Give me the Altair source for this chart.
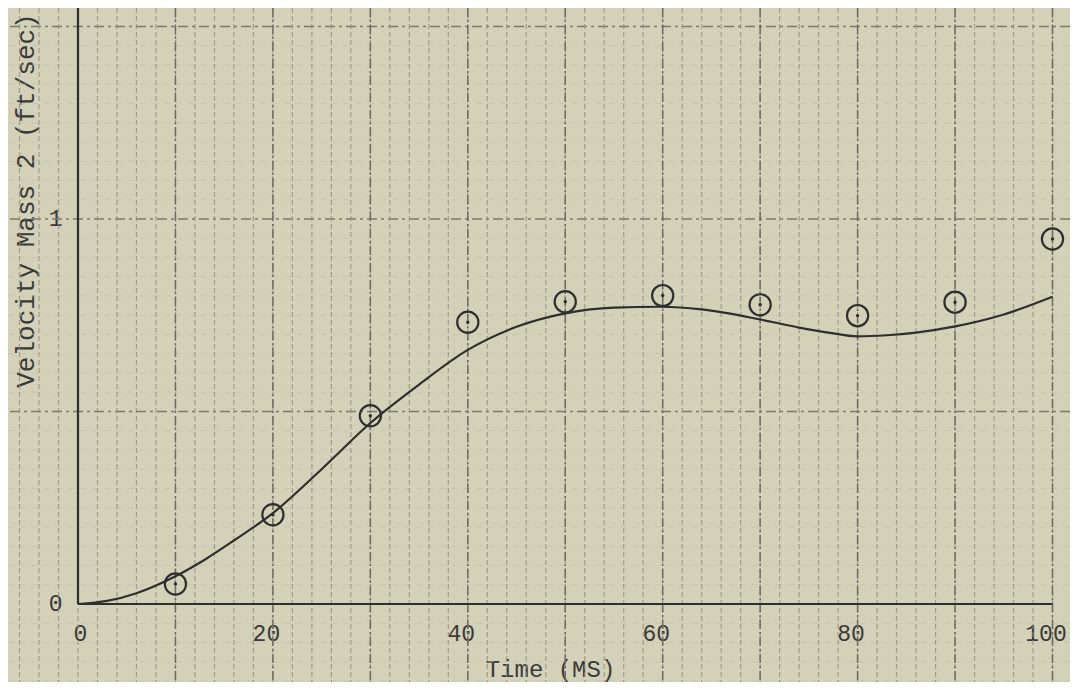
import altair as alt
import pandas as pd

# ---- data ----
time_pts = [10, 20, 30, 40, 50, 60, 70, 80, 90, 100]
vel_pts = [0.052, 0.232, 0.489, 0.732, 0.785, 0.801, 0.777, 0.749, 0.784, 0.948]

curve_t = [0, 3, 6, 10, 13, 16, 20, 25, 30, 35, 40, 45, 50, 55, 60, 64, 70, 74, 77, 80, 83, 86, 90, 95, 100]
curve_v = [0.0, 0.008, 0.028, 0.072, 0.115, 0.165, 0.236, 0.35, 0.47, 0.57, 0.66, 0.72, 0.755, 0.77, 0.772,
           0.765, 0.739, 0.718, 0.705, 0.695, 0.698, 0.705, 0.721, 0.752, 0.798]

x_ticks = [0, 20, 40, 60, 80, 100]
y_ticks = [0, 1]

# graph-paper rulings
minor_x = list(range(-6, 102, 2))
major_x = list(range(10, 101, 10))
major_y = [0.5, 1.0, 1.5]
minor_y = [round(i * 0.05, 2) for i in range(-4, 31) if round(i * 0.05, 2) not in (0.0, 0.5, 1.0, 1.5)]

W, H = 1062, 674
X_DOMAIN = [-7.183, 101.796]
Y_DOMAIN = [-0.2026, 1.548]

PAPER = "#d3d1b8"
INK = "#2f2f2f"
TEXT = "#3a3a3a"
FONT = "Liberation Mono"

xs = alt.Scale(domain=X_DOMAIN, nice=False, zero=False)
ys = alt.Scale(domain=Y_DOMAIN, nice=False, zero=False)

x_label_offset = {
    "condition": [
        {"test": "datum.value == 0", "value": 2},
        {"test": "datum.value == 100", "value": -7},
    ],
    "value": -7,
}

xaxis = alt.Axis(
    values=x_ticks, title="Time (MS)", grid=False, domain=False, ticks=False, tickSize=0,
    labelPadding=36, labelBaseline="alphabetic", labelFont=FONT, labelFontSize=23,
    labelColor=TEXT, labelOverlap=False, labelFlush=False, labelOffset=x_label_offset,
    offset=-78,
    titleFont=FONT, titleFontSize=24, titleFontWeight="normal", titleColor=TEXT,
    titleX=542, titleY=72, titleBaseline="alphabetic",
)
yaxis = alt.Axis(
    values=y_ticks, title="Velocity Mass 2 (ft/sec)", grid=False, domain=False, ticks=False, tickSize=0,
    labelPadding=16, labelAlign="right", labelBaseline="middle", labelFont=FONT, labelFontSize=23,
    labelColor=TEXT, labelOverlap=False, labelFlush=False, offset=-70,
    titleFont=FONT, titleFontSize=26, titleFontWeight="normal", titleColor=TEXT,
    titleX=-45, titleY=192, titleAngle=270, titleBaseline="alphabetic",
)


def X(field):
    return alt.X(field, type="quantitative", scale=xs, axis=xaxis)


def Y(field):
    return alt.Y(field, type="quantitative", scale=ys, axis=yaxis)


grid_minor_x = alt.Chart(pd.DataFrame({"t": minor_x})).mark_rule(
    color="#8d8b7d", strokeWidth=1.2, strokeDash=[5, 3], opacity=0.75
).encode(x=X("t"))

grid_major_x = alt.Chart(pd.DataFrame({"t": major_x})).mark_rule(
    color="#6d6b60", strokeWidth=1.5, strokeDash=[9, 3, 2, 3]
).encode(x=X("t"))

grid_minor_y = alt.Chart(pd.DataFrame({"v": minor_y})).mark_rule(
    color="#c2c0aa", strokeWidth=1, strokeDash=[6, 6], opacity=0.6
).encode(y=Y("v"))

grid_major_y = alt.Chart(pd.DataFrame({"v": major_y})).mark_rule(
    color="#7c7a6d", strokeWidth=1.5, strokeDash=[10, 4, 3, 4]
).encode(y=Y("v"))

x_axis_line = alt.Chart(pd.DataFrame({"t0": [0], "t1": [100], "v": [0]})).mark_rule(
    color=INK, strokeWidth=2.2
).encode(x=X("t0"), x2="t1", y=Y("v"))

y_axis_line = alt.Chart(pd.DataFrame({"t": [0], "v": [0]})).mark_rule(
    color=INK, strokeWidth=2.2
).encode(x=X("t"), y=Y("v"), y2=alt.value(0))

curve = alt.Chart(pd.DataFrame({"t": curve_t, "v": curve_v})).mark_line(
    color=INK, strokeWidth=2.2, interpolate="monotone"
).encode(x=X("t"), y=Y("v"))

pts_df = pd.DataFrame({"t": time_pts, "v": vel_pts})
rings = alt.Chart(pts_df).mark_point(
    shape="circle", filled=False, size=450, stroke=INK, strokeWidth=2.2, opacity=1
).encode(x=X("t"), y=Y("v"))
dots = alt.Chart(pts_df).mark_point(
    shape="circle", filled=True, size=12, color=INK, opacity=1
).encode(x=X("t"), y=Y("v"))

chart = alt.layer(
    grid_minor_y, grid_major_y, grid_minor_x, grid_major_x,
    x_axis_line, y_axis_line, curve, rings, dots
).properties(
    width=W, height=H, padding=0, background=PAPER,
    autosize=alt.AutoSizeParams(type="none"),
).configure_view(
    strokeWidth=0, fill=PAPER
)

chart.save("out.html", embed_options={"renderer": "svg", "actions": False})
